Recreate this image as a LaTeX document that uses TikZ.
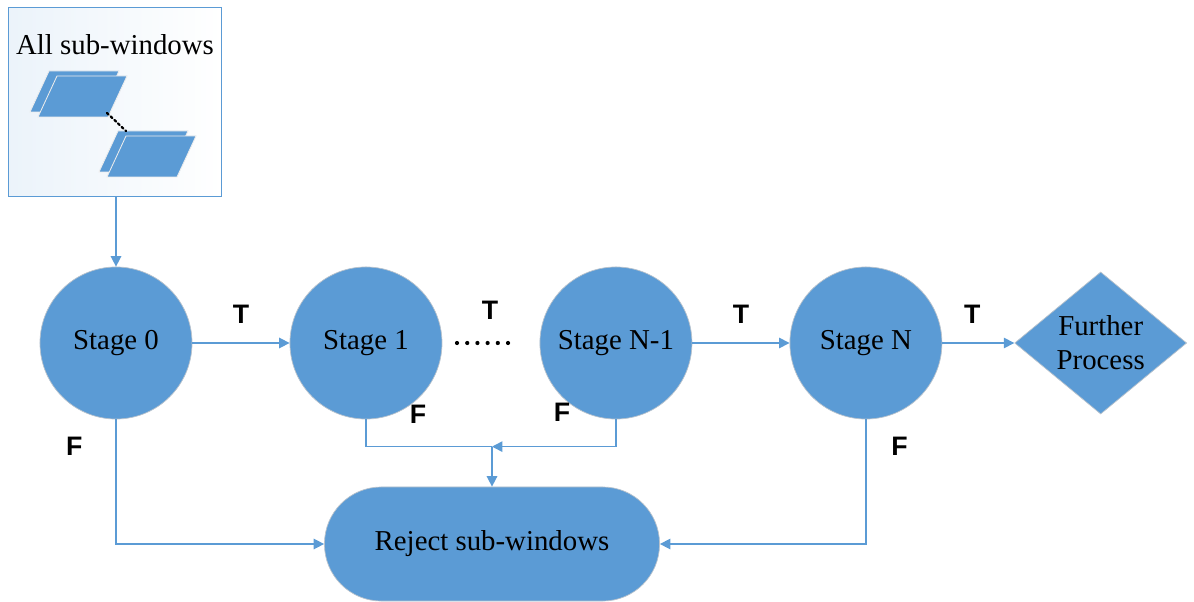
\documentclass[tikz,border=0pt]{standalone}
\usepackage{fontspec}
\setmainfont{Liberation Serif}
\newfontfamily\labelfont{Liberation Sans}
\usepackage{xcolor}
\usetikzlibrary{arrows.meta,positioning,shapes.geometric}

\definecolor{stageblue}{HTML}{5B9BD5}
\definecolor{rimgray}{HTML}{B8C2CC}

\begin{document}
\begin{tikzpicture}[
    x=0.025cm, y=-0.025cm,
    node distance=2.43cm,
    every node/.style={font=\fontsize{20.5}{24}\selectfont},
    stage/.style={
        circle,
        fill=stageblue,
        draw=rimgray,
        line width=0.5pt,
        minimum size=3.8cm,
        inner sep=0pt
    },
    decision/.style={
        diamond,
        fill=stageblue,
        draw=rimgray,
        line width=0.5pt,
        align=center,
        minimum width=4.3cm,
        minimum height=3.3cm,
        inner sep=0pt
    },
    terminal/.style={
        rectangle,
        rounded corners=1.42cm,
        fill=stageblue,
        draw=rimgray,
        line width=0.5pt,
        minimum width=8.375cm,
        minimum height=2.85cm
    },
    window/.style={
        fill=stageblue,
        draw=white!85!gray,
        line width=0.6pt
    },
    tf/.style={
        font=\labelfont\bfseries\fontsize{19}{22}\selectfont
    },
    flow/.style={
        draw=stageblue,
        line width=1.1pt
    },
    arrow/.style={
        flow,
        -{Triangle[length=2.6mm,width=2.6mm]}
    }
]

\useasboundingbox (0,0) rectangle (1194,602);

% =========================================================
% INPUT BOX
% =========================================================

\node[
    rectangle,
    draw=stageblue,
    line width=0.7pt,
    left color=stageblue!12,
    right color=white,
    minimum width=5.325cm,
    minimum height=4.7cm
] (allsub) at (115,102) {};

\node (title) at (115,45) {All sub-windows};

% two stacks of sub-windows
\foreach \bx/\by in {30/112, 38/117, 99/172, 107/177}
    \filldraw[window]
        (\bx,\by) -- ++(70,0) -- ++(19,-41) -- ++(-70,0) -- cycle;

\draw[line width=1.6pt, dotted, line cap=round]
    (107,113) -- (126,131);

% =========================================================
% STAGE CHAIN
% =========================================================

\node[stage] (s0) at (116,343) {Stage 0};
\node[stage, right=of s0] (s1) {Stage 1};
\node[stage, right=of s1] (sn1) {Stage N-1};
\node[stage, right=of sn1] (sn) {Stage N};

\node[decision, right=1.8cm of sn] (further) {
Further\\
Process
};

\node[terminal] (reject) at (492,544) {Reject sub-windows};

% skipped stages
\coordinate (gap) at (457,343);
\foreach \i in {0,...,5}
    \fill ([xshift=\i*0.255cm]gap) circle (2.1);

\node[tf] (tgap) at (490,310) {T};

% =========================================================
% TRUE BRANCHES
% =========================================================

\draw[arrow] (s0 |- allsub.south) -- (s0);

\draw[arrow]
    (s0) -- node[tf, above=3.5mm]{T} (s1);

\draw[arrow]
    (sn1) -- node[tf, above=3.5mm]{T} (sn);

\draw[arrow]
    (sn) -- node[tf, above=3.5mm, xshift=-1.5mm]{T} (further);

% =========================================================
% FALSE BRANCHES
% =========================================================

\coordinate (merge) at ([yshift=1cm]reject.north);

\draw[arrow]
    (s0.south) |- node[tf, pos=0.11, left=7mm]{F} (reject.west);

\draw[flow]
    (s1.south) |- (merge);

\draw[arrow]
    (sn1.south) |- (merge);

\draw[arrow]
    (merge) -- (reject.north);

\draw[arrow]
    (sn.south) |- node[tf, pos=0.11, right=5mm]{F} (reject.east);

\node[tf] (f1) at (418,414) {F};
\node[tf] (fn1) at (562,412) {F};

\end{tikzpicture}
\end{document}
